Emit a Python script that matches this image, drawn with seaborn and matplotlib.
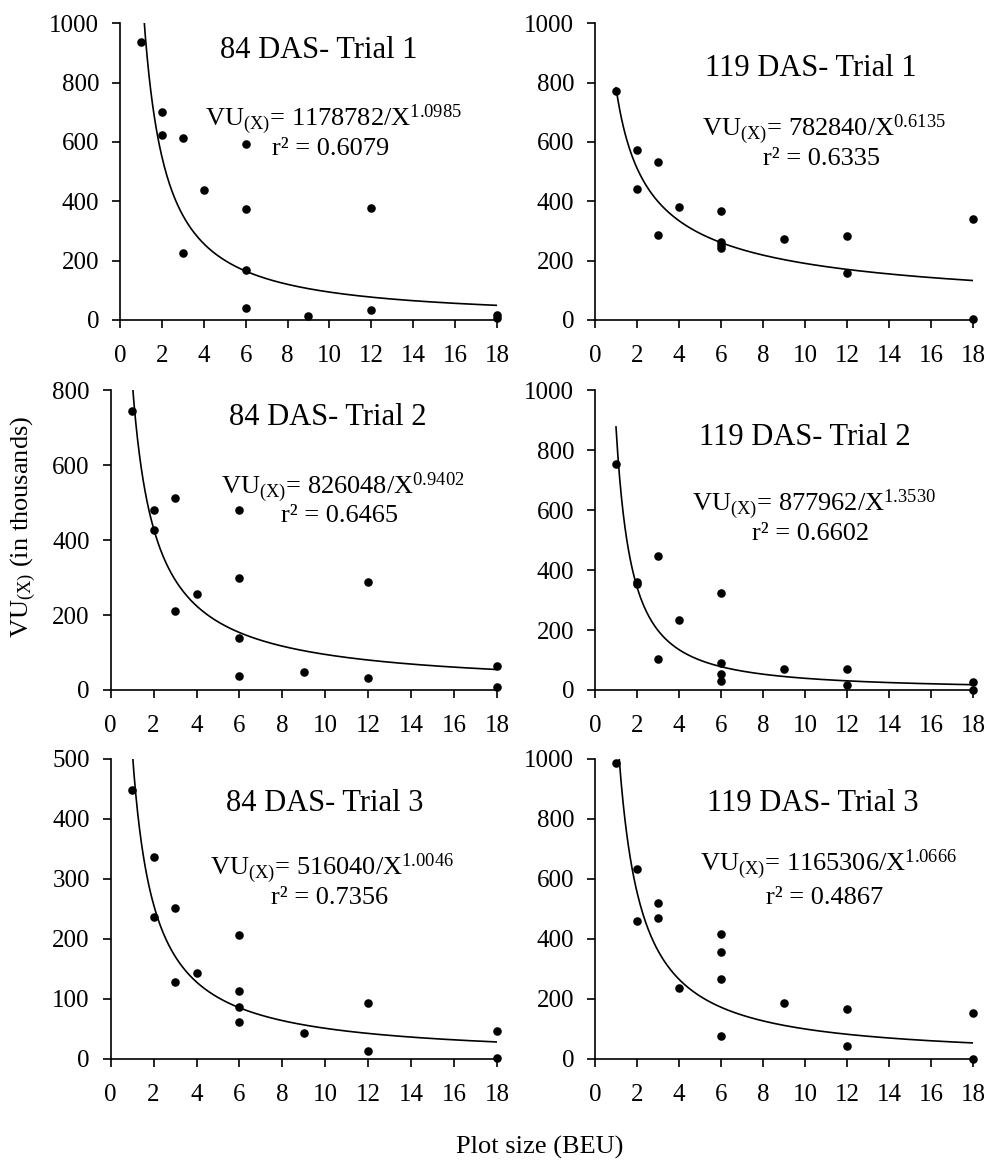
import numpy as np
import pandas as pd
import matplotlib
matplotlib.use("Agg")
import matplotlib.pyplot as plt
import seaborn as sns

# plot size (BEU) - same sampling in every panel
plot_size = [1, 2, 2, 3, 3, 4, 6, 6, 6, 6, 9, 12, 12, 18, 18]

# VU(X) in thousands
vu_84_t1 = [938, 702, 622, 614, 226, 437, 592, 374, 169, 42, 15, 379, 35, 16, 8]
vu_119_t1 = [772, 573, 443, 532, 285, 381, 366, 264, 252, 241, 274, 284, 157, 340, 4]
vu_84_t2 = [745, 480, 427, 513, 212, 255, 479, 298, 140, 36, 48, 287, 32, 64, 8]
vu_119_t2 = [754, 360, 354, 446, 102, 232, 324, 90, 52, 30, 69, 69, 18, 28, 0]
vu_84_t3 = [448, 336, 236, 251, 129, 144, 206, 114, 86, 61, 43, 94, 13, 47, 1]
vu_119_t3 = [986, 634, 459, 520, 470, 237, 418, 358, 267, 78, 188, 167, 43, 153, 0]

titles = ["84 DAS- Trial 1", "119 DAS- Trial 1", "84 DAS- Trial 2",
          "119 DAS- Trial 2", "84 DAS- Trial 3", "119 DAS- Trial 3"]
coef_a = ["1178782", "782840", "826048", "877962", "516040", "1165306"]
coef_b = ["1.0985", "0.6135", "0.9402", "1.3530", "1.0046", "1.0666"]
r2 = ["0.6079", "0.6335", "0.6465", "0.6602", "0.7356", "0.4867"]
ymax = [1000, 1000, 800, 1000, 500, 1000]
ystep = [200, 200, 200, 200, 100, 200]

series = [vu_84_t1, vu_119_t1, vu_84_t2, vu_119_t2, vu_84_t3, vu_119_t3]

sns.set_style("ticks")
plt.rcParams["font.family"] = ["Liberation Serif", "DejaVu Serif"]
plt.rcParams["mathtext.fontset"] = "custom"
plt.rcParams["mathtext.rm"] = "Liberation Serif"
plt.rcParams["mathtext.it"] = "Liberation Serif:italic"
for k in ["text.color", "axes.labelcolor", "xtick.color", "ytick.color", "axes.edgecolor"]:
    plt.rcParams[k] = "black"

fig = plt.figure(figsize=(9.9, 11.61), dpi=100)

# axes boxes [left, width] per panel, rows as (bottom, top)
boxes = [(0.1212, 0.3808), (0.601, 0.3818),
         (0.1118, 0.3902), (0.601, 0.3818),
         (0.1118, 0.3902), (0.601, 0.3818)]
rows = [(0.7244, 0.980), (0.4057, 0.664), (0.0879, 0.3463)]
# text positions (axes fraction): title, equation, r2
title_pos = [(0.528, 0.909), (0.571, 0.848), (0.5625, 0.91),
             (0.556, 0.843), (0.555, 0.853), (0.577, 0.853)]
eq_pos = [(0.565, 0.675), (0.606, 0.64), (0.601, 0.675),
          (0.579, 0.617), (0.573, 0.633), (0.619, 0.646)]
r2_pos = [(0.56, 0.575), (0.60, 0.541), (0.593, 0.579),
          (0.571, 0.519), (0.567, 0.536), (0.608, 0.536)]

for i in range(6):
    r, c = divmod(i, 2)
    bottom, top = rows[r]
    left, width = boxes[i]
    ax = fig.add_axes([left, bottom, width, top - bottom])

    df = pd.DataFrame({"x": plot_size, "y": series[i]})
    # fitted power curve from the equation printed in the panel
    xs = np.linspace(1, 18, 400)
    curve = pd.DataFrame({"x": xs,
                          "y": float(coef_a[i]) / 1000 / xs ** float(coef_b[i])})
    sns.lineplot(data=curve, x="x", y="y", ax=ax, color="black", lw=1.2)
    sns.scatterplot(data=df, x="x", y="y", ax=ax, color="black", s=38,
                    edgecolor="black", linewidth=0, clip_on=False, zorder=3)

    ax.set_xlim(0, 18)
    ax.set_ylim(0, ymax[i])
    ax.set_xticks(range(0, 19, 2))
    ax.set_yticks(range(0, ymax[i] + 1, ystep[i]))
    ax.tick_params(labelsize=18, length=6, width=1.2, colors="black")
    ax.tick_params(axis="x", pad=12)
    ax.tick_params(axis="y", pad=9)
    for s in ["left", "bottom"]:
        ax.spines[s].set_linewidth(1.2)
        ax.spines[s].set_color("black")
    sns.despine(ax=ax)
    ax.set_xlabel("")
    ax.set_ylabel("")

    ax.text(*title_pos[i], titles[i], transform=ax.transAxes,
            ha="center", va="center", fontsize=22)
    ax.text(*eq_pos[i],
            r"VU$_{\mathrm{(X)}}$= " + coef_a[i] + r"/X$^{\mathrm{" + coef_b[i] + "}}$",
            transform=ax.transAxes, ha="center", va="center", fontsize=19)
    ax.text(*r2_pos[i], "r² = " + r2[i], transform=ax.transAxes,
            ha="center", va="center", fontsize=19)

fig.text(0.023, 0.546, r"VU$_{\mathrm{(X)}}$ (in thousands)", rotation=90,
         ha="center", va="center", fontsize=19)
fig.text(0.545, 0.012, "Plot size (BEU)", ha="center", va="center", fontsize=19)

fig.savefig("out.png", dpi=100)
